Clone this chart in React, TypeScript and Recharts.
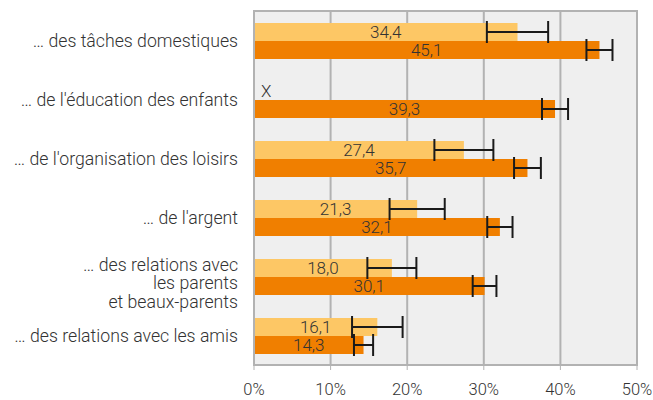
import { BarChart, Bar, XAxis, YAxis, CartesianGrid, ErrorBar, LabelList, ReferenceArea } from 'recharts'

const categories = [
    '… des tâches domestiques',
    "… de l'éducation des enfants",
    "… de l'organisation des loisirs",
    "… de l'argent",
    '… des relations avec\nles parents\net beaux-parents',
    '… des relations avec les amis',
]
const lightValues: (number | null)[] = [34.4, null, 27.4, 21.3, 18.0, 16.1]
const darkValues = [45.1, 39.3, 35.7, 32.1, 30.1, 14.3]
const lightErrors: (number | null)[] = [4.0, null, 3.85, 3.6, 3.2, 3.3]
const darkErrors = [1.7, 1.7, 1.75, 1.65, 1.55, 1.25]
const xTicks = [0, 10, 20, 30, 40, 50]

const data = categories.map((name, i) => ({
    name,
    light: lightValues[i],
    lightNote: lightValues[i] == null ? 'X' : '',
    lightErr: lightErrors[i] ?? 0,
    dark: darkValues[i],
    darkErr: darkErrors[i],
}))

const font = 'Roboto, sans-serif'
const textColor = '#333333'
const gridColor = '#b2b2b2'
const fw = 300

function CategoryTick(props: any) {
    const { x, y, payload } = props
    const lines = String(payload.value).split('\n')
    const start = lines.length > 1 ? -12 : 0
    return (
        <text x={x} y={y} textAnchor="end" fill={textColor} fontSize={17.7} fontFamily={font} fontWeight={fw}>
            {lines.map((line, i) => (
                <tspan key={i} x={x} dy={i === 0 ? start + 6 : 18.5}>
                    {line}
                </tspan>
            ))}
        </text>
    )
}

function ValueLabel(props: any) {
    const { x, y, width, height, value } = props
    if (value == null) return null
    return (
        <text x={x + width / 2} y={y + height / 2} dy={6} textAnchor="middle" fill={textColor} fontSize={17} fontFamily={font} fontWeight={fw}>
            {Number(value).toFixed(1).replace('.', ',')}
        </text>
    )
}

// missing value marker for the light series, drawn in the slot above the dark bar
function NoteLabel(props: any) {
    const { x, y, value } = props
    if (!value) return null
    return (
        <text x={x + 7} y={y - 9} dy={6} fill={textColor} fontSize={17} fontFamily={font} fontWeight={fw}>
            {value}
        </text>
    )
}

export default function App() {
    return (
        <div style={{ position: 'absolute', left: 0, top: 0 }}>
            <BarChart
                width={653}
                height={400}
                data={data}
                layout="vertical"
                margin={{ top: 11, right: 16, bottom: 0, left: 0 }}
                barSize={18}
                barGap={0}
            >
                <CartesianGrid horizontal={false} stroke={gridColor} strokeWidth={2} fill="#efefef" />
                <XAxis
                    type="number"
                    domain={[0, 50]}
                    ticks={xTicks}
                    tickFormatter={(v) => `${v}%`}
                    height={35}
                    axisLine={{ stroke: gridColor, strokeWidth: 2 }}
                    tickLine={{ stroke: gridColor }}
                    tickSize={5}
                    tickMargin={13}
                    tick={{ fill: textColor, fontSize: 16.5, fontFamily: font, fontWeight: fw }}
                />
                <YAxis
                    type="category"
                    dataKey="name"
                    width={254}
                    axisLine={{ stroke: gridColor, strokeWidth: 2 }}
                    tickLine={false}
                    tickSize={0}
                    tickMargin={16}
                    interval={0}
                    tick={<CategoryTick />}
                />
                <ReferenceArea x1={0} x2={50} fill="none" stroke={gridColor} strokeWidth={2} />
                <Bar dataKey="light" fill="#fdc765" isAnimationActive={false}>
                    <LabelList dataKey="light" content={<ValueLabel />} />
                    <ErrorBar dataKey="lightErr" direction="x" width={11} stroke="#1a1a1a" strokeWidth={2} />
                </Bar>
                <Bar dataKey="dark" fill="#f07f00" isAnimationActive={false}>
                    <LabelList dataKey="dark" content={<ValueLabel />} />
                    <LabelList dataKey="lightNote" content={<NoteLabel />} />
                    <ErrorBar dataKey="darkErr" direction="x" width={11} stroke="#1a1a1a" strokeWidth={2} />
                </Bar>
            </BarChart>
        </div>
    )
}
